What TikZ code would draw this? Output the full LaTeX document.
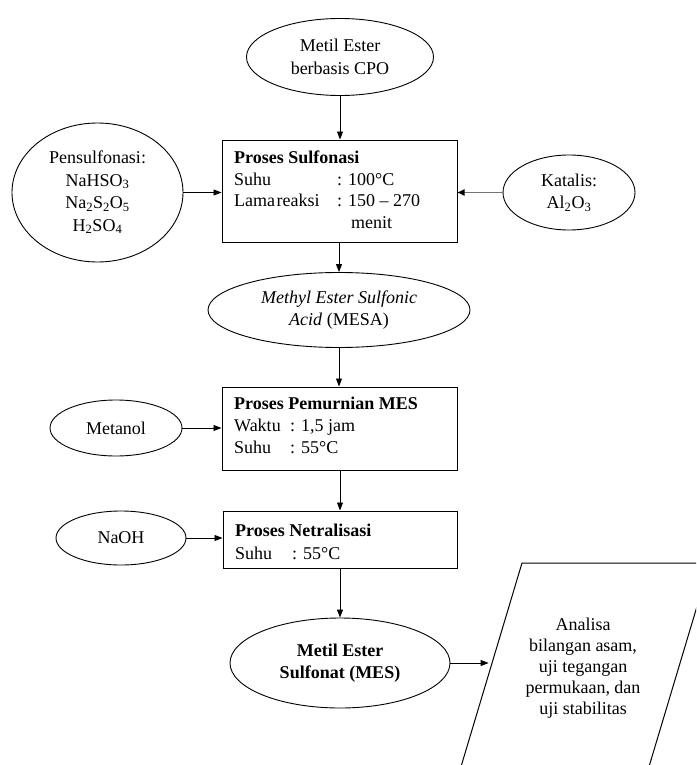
\documentclass[tikz,border=0pt]{standalone}
\usepackage{fontspec}
\setmainfont{Liberation Serif}
\usetikzlibrary{shapes.geometric,arrows.meta,calc}
\tikzset{
  ell/.style={draw, line width=0.9pt, ellipse, inner sep=0pt, align=center, font=\fontsize{18}{22.5}\selectfont},
  procbox/.style={draw, line width=1pt, rectangle, inner sep=0pt},
  txt/.style={anchor=base west, inner sep=0pt, font=\fontsize{18}{22}\selectfont},
  arr/.style={line width=0.9pt, -{Triangle[length=8pt,width=6pt]}},
  garr/.style={line width=1.6pt, draw=black!55, -{Triangle[length=7pt,width=6pt,fill=black,color=black]}},
}
\begin{document}
\begin{tikzpicture}[x=1pt,y=-1pt]
\useasboundingbox (0,0) rectangle (696,765);
% ellipses
\node[ell, minimum width=187pt, minimum height=77pt] (cpo) at (340,57) {Metil Ester\\berbasis CPO};
\node[ell, minimum width=171pt, minimum height=139pt] (pens) at (97.5,192.5) {Pensulfonasi:\\NaHSO\textsubscript{3}\\Na\textsubscript{2}S\textsubscript{2}O\textsubscript{5}\\H\textsubscript{2}SO\textsubscript{4}};
\node[ell, minimum width=132pt, minimum height=75pt] (kat) at (569,192.5) {Katalis:\\Al\textsubscript{2}O\textsubscript{3}};
\node[ell, minimum width=262pt, minimum height=75pt] (mesa) at (339,310) {\textit{Methyl Ester Sulfonic}\\\textit{Acid} (MESA)};
\node[ell, minimum width=132pt, minimum height=56pt] (met) at (116,428) {Metanol};
\node[ell, minimum width=130pt, minimum height=54pt] (naoh) at (121,538) {NaOH};
\node[ell, minimum width=220pt, minimum height=90pt, font=\fontsize{18}{22.5}\selectfont\bfseries] (mes) at (340,663) {Metil Ester\\Sulfonat (MES)};
% boxes
\node[procbox, minimum width=235pt, minimum height=102pt] (s1) at (339.5,191) {};
\node[procbox, minimum width=235pt, minimum height=83pt] (s2) at (339.5,428.5) {};
\node[procbox, minimum width=234pt, minimum height=57pt] (s3) at (340,539.5) {};
% box texts
\node[txt, font=\fontsize{18}{22}\selectfont\bfseries] (s1a) at (234,163) {Proses Sulfonasi};
\node[txt] (s1b) at (234,185) {Suhu};
\node[txt] (s1c) at (337,185) {: 100°C};
\node[txt] (s1d) at (234,206) {Lama\hspace{1.5pt}reaksi};
\node[txt] (s1e) at (337,206) {: 150 – 270};
\node[txt] (s1f) at (351,228) {menit};
\node[txt, font=\fontsize{18}{22}\selectfont\bfseries] (s2a) at (234,409) {Proses Pemurnian MES};
\node[txt] (s2b) at (234,431) {Waktu};
\node[txt] (s2c) at (290,431) {: 1,5 jam};
\node[txt] (s2d) at (234,453) {Suhu};
\node[txt] (s2e) at (290,453) {: 55°C};
\node[txt, font=\fontsize{18}{22}\selectfont\bfseries] (s3a) at (235,536) {Proses Netralisasi};
\node[txt] (s3b) at (235,559) {Suhu};
\node[txt] (s3c) at (292,559) {: 55°C};
% parallelogram (cut by the page edges)
\coordinate (ptl) at (522,563);
\coordinate (ptr) at (710,563);
\coordinate (pbr) at (645,780);
\coordinate (pbl) at (457,780);
\begin{scope}
\clip (0,0) rectangle (696,765);
\draw[line width=1pt] (pbl) -- (ptl) -- (ptr) -- (pbr);
\end{scope}
\node[align=center, inner sep=0pt, font=\fontsize{18}{21}\selectfont] (ana) at (583,668) {Analisa\\bilangan asam,\\uji tegangan\\permukaan, dan\\uji stabilitas};
\coordinate (pin) at ($(ptl)!(mes.east)!(pbl)$);
% connectors
\draw[arr] (cpo.south) -- (cpo.south |- s1.north);
\draw[arr] (pens.east) -- (pens.east -| s1.west);
\draw[garr] (kat.west) -- (kat.west -| s1.east);
\draw[arr] (s1.south -| mesa.north) -- (mesa.north);
\draw[arr] (mesa.south) -- (mesa.south |- s2.north);
\draw[arr] (met.east) -- (met.east -| s2.west);
\draw[arr] (s2.south -| s3.north) -- (s3.north);
\draw[arr] (naoh.east) -- (naoh.east -| s3.west);
\draw[arr] (s3.south) -- (s3.south |- mes.north);
\draw[arr] (mes.east) -- (mes.east -| pin);
\end{tikzpicture}
\end{document}
